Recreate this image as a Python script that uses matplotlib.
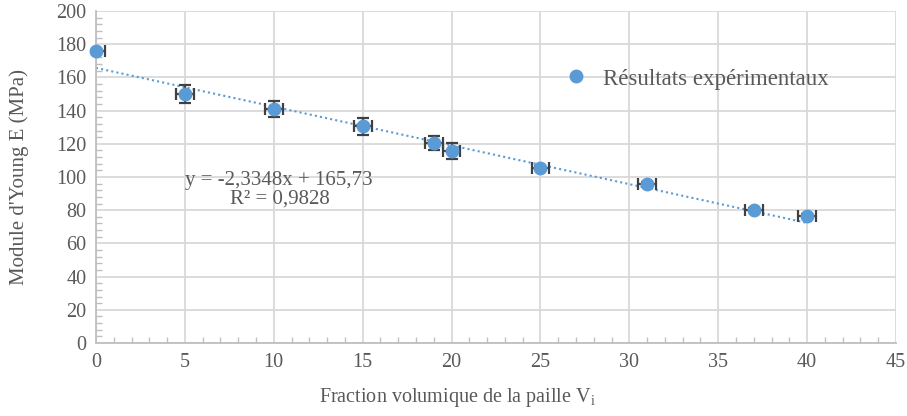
import matplotlib
matplotlib.use("Agg")
import matplotlib.pyplot as plt
import numpy as np
from matplotlib.ticker import MultipleLocator

x_vals = [0, 5, 10, 15, 19, 20, 25, 31, 37, 40]
y_vals = [176, 150, 141, 130.5, 120.5, 115.5, 105.5, 95.5, 80.3, 76.5]
y_err = [1.0, 5.5, 4.7, 5.2, 4.2, 4.7, 1.2, 1.2, 1.0, 1.0]
x_err = [0.5, 0.5, 0.5, 0.5, 0.5, 0.5, 0.5, 0.5, 0.5, 0.5]
slope = -2.3348
intercept = 165.73
r2_text = "R² = 0,9828"
eq_text = "y = -2,3348x + 165,73"
legend_label = "Résultats expérimentaux"
x_ticks = [0, 5, 10, 15, 20, 25, 30, 35, 40, 45]
y_ticks = [0, 20, 40, 60, 80, 100, 120, 140, 160, 180, 200]

plt.rcParams['font.family'] = ['Liberation Serif', 'DejaVu Serif']

fig = plt.figure(figsize=(9.07, 4.16), dpi=100)
ax = fig.add_axes([96/907, 1-343/416, 800/907, 332/416])

txt = '#595959'
grid_c = '#d9d9d9'
ax.set_xlim(0, 45)
ax.set_ylim(0, 200)
ax.set_xticks(x_ticks)
ax.set_yticks(y_ticks)
ax.xaxis.set_minor_locator(MultipleLocator(1))
ax.yaxis.set_minor_locator(MultipleLocator(4))
ax.grid(True, which='major', color=grid_c, linewidth=1.3)
ax.set_axisbelow(True)
for s in ['top', 'right']:
    ax.spines[s].set_visible(False)
for s in ['left', 'bottom']:
    ax.spines[s].set_color('#bfbfbf')
    ax.spines[s].set_linewidth(1.3)
ax.tick_params(which='major', length=0, labelsize=14.5, colors=txt, pad=7)
ax.tick_params(which='minor', length=4, color='#bfbfbf', direction='in', width=1)

xs = np.array([0, 40])
ax.plot(xs, slope*xs + intercept, linestyle=(0, (1, 1.5)), color='#5B9BD5', linewidth=1.5, zorder=2)
ax.errorbar(x_vals, y_vals, yerr=y_err, xerr=x_err, fmt='none', ecolor='#404040',
            elinewidth=1.6, capsize=4, capthick=1.6, zorder=3)
ax.plot(x_vals, y_vals, 'o', color='#5B9BD5', markersize=9, zorder=4, clip_on=False,
        label=legend_label)

ax.legend(loc='center left', bbox_to_anchor=((575-96-13)/800, 1-(79-11)/332), frameon=False,
          fontsize=16.5, labelcolor=txt, handletextpad=0.6, borderaxespad=0, borderpad=0,
          handlelength=1.2)

ax.text(10.3, 97.6, eq_text, fontsize=15, color=txt, ha='center', va='center')
ax.text(10.35, 87.0, r2_text, fontsize=15, color=txt, ha='center', va='center')

ax.set_xlabel("Fraction volumique de la paille V$_\\mathregular{i}$", fontsize=14.5, color=txt)
ax.xaxis.set_label_coords((457-96)/800, -0.13)
ax.set_ylabel("Module d'Young E (MPa)", fontsize=15, color=txt)
ax.yaxis.set_label_coords(-(96-29)/800, 0.5)

fig.savefig("out.png", dpi=100)
